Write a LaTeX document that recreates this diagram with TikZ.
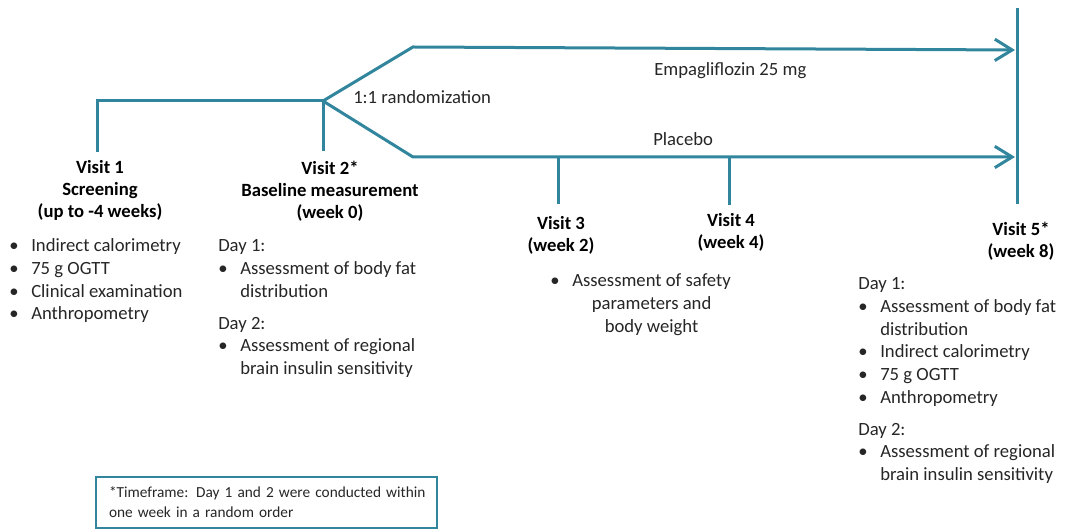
\documentclass[tikz,border=0pt]{standalone}
\usepackage{fontspec}
\setmainfont{Carlito}
\usetikzlibrary{arrows.meta}
\definecolor{armline}{HTML}{31859C}
\definecolor{txtgray}{HTML}{262626}
\tikzset{
  arm/.style={color=armline, line width=2.25pt},
  armarrow/.style={arm, -{Straight Barb[length=13pt,width=16pt]}},
  visit/.style={anchor=base, inner sep=0pt, font=\fontsize{14pt}{16.5pt}\selectfont\bfseries},
  tasks/.style={anchor=base west, inner sep=0pt, text=txtgray, font=\fontsize{14pt}{17pt}\selectfont},
  armlabel/.style={anchor=base west, inner sep=0pt, text=txtgray, font=\fontsize{14pt}{17pt}\selectfont},
  notebox/.style={draw=armline, line width=1.5pt, anchor=north west, outer sep=0pt,
    inner xsep=9.75pt, text width=236.25pt, minimum height=38.25pt, align=left,
    text=txtgray, font=\fontsize{11.5pt}{15pt}\selectfont}
}
\newcommand{\bitem}{\makebox[16.5pt][l]{\textbullet}}
\newcommand{\bcont}{\hspace*{16.5pt}}
\begin{document}
\begin{tikzpicture}[x=0.75pt, y=-0.75pt]
\useasboundingbox (0,0) rectangle (1065,530);

\coordinate (v1top) at (97,101);
\coordinate (v1) at (97,152);
\coordinate (rand) at (323,101);
\coordinate (v2) at (323,151);
\coordinate (upbend) at (413,47);
\coordinate (upend) at (1015,50);
\coordinate (lowbend) at (413,157);
\coordinate (lowend) at (1015,157);
\coordinate (v3top) at (558,157);
\coordinate (v3) at (558,204);
\coordinate (v4top) at (729,157);
\coordinate (v4) at (729,205);
\coordinate (v5top) at (1017,8);
\coordinate (v5) at (1017,204);

\draw [arm] (v1) -- (v1top) -- (rand) -- (v2);
\draw [armarrow] (rand) -- (upbend) -- (upend);
\draw [armarrow] (rand) -- (lowbend) -- (lowend);
\draw [arm] (v3top) -- (v3);
\draw [arm] (v4top) -- (v4);
\draw [arm] (v5top) -- (v5);

\node [armlabel] (randlbl) at (353,104) {1:1 randomization};
\node [armlabel] (empa) at (654,76) {Empagliflozin 25 mg};
\node [armlabel] (plac) at (653,146) {Placebo};

\node [visit] (visit1) at (100,174) {\begin{tabular}[t]{@{}c@{}}Visit 1\\Screening\\(up to -4 weeks)\end{tabular}};
\node [visit] (visit2) at (330,175) {\begin{tabular}[t]{@{}c@{}}Visit 2*\\Baseline measurement\\(week 0)\end{tabular}};
\node [visit] (visit3) at (561,230) {\begin{tabular}[t]{@{}c@{}}Visit 3\\(week 2)\end{tabular}};
\node [visit] (visit4) at (731,227) {\begin{tabular}[t]{@{}c@{}}Visit 4\\(week 4)\end{tabular}};
\node [visit] (visit5) at (1021,236) {\begin{tabular}[t]{@{}c@{}}Visit 5*\\(week 8)\end{tabular}};

\node [tasks] (tasks1) at (9,252) {\begin{tabular}[t]{@{}l@{}}\bitem Indirect calorimetry\\ \bitem 75 g OGTT\\ \bitem Clinical examination\\ \bitem Anthropometry\end{tabular}};
\node [tasks] (tasks2) at (218,252) {\begin{tabular}[t]{@{}l@{}}Day 1:\\ \bitem Assessment of body fat\\ \bcont distribution\\[7pt] Day 2:\\ \bitem Assessment of regional\\ \bcont brain insulin sensitivity\end{tabular}};
\node [tasks] (tasks3) at (550,287) {\begin{tabular}[t]{@{}l@{}c@{}}\bitem & Assessment of safety\\ & parameters and\\ & body weight\end{tabular}};
\node [tasks] (tasks5) at (858,290) {\begin{tabular}[t]{@{}l@{}}Day 1:\\ \bitem Assessment of body fat\\ \bcont distribution\\ \bitem Indirect calorimetry\\ \bitem 75 g OGTT\\ \bitem Anthropometry\\[7pt] Day 2:\\ \bitem Assessment of regional\\ \bcont brain insulin sensitivity\end{tabular}};

\node [notebox] (note) at (96,477) {\mbox{*Timeframe: Day 1 and 2 were conducted within}\\\mbox{one week in a random order}};

\end{tikzpicture}
\end{document}
